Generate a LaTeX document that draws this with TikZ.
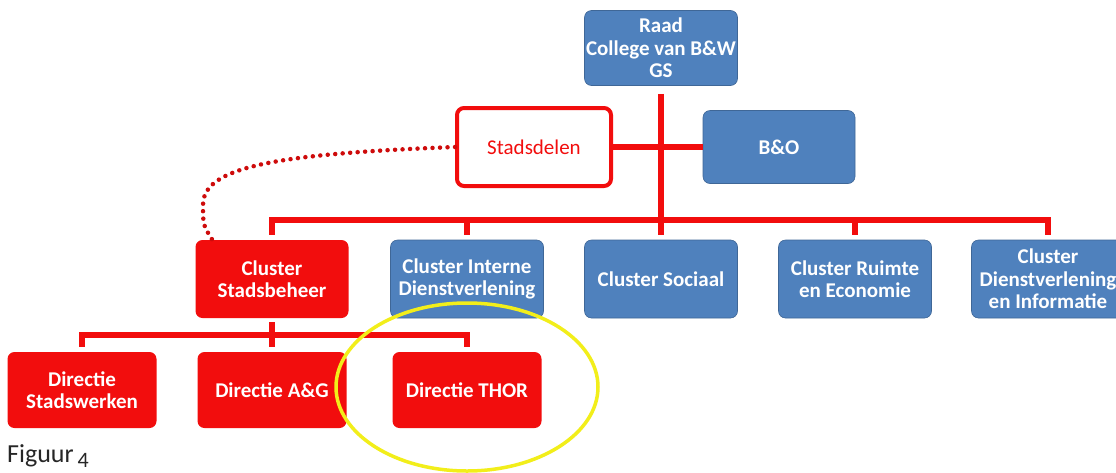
\documentclass[tikz,border=0pt]{standalone}
\usepackage{fontspec}
\setmainfont{Carlito}
\definecolor{offblue}{HTML}{4F81BD}
\definecolor{orgred}{HTML}{F20D0D}
\definecolor{ringyellow}{HTML}{F2EE1A}
\tikzset{
  box/.style={rounded corners=7pt, align=center, text=white, font=\fontsize{21}{22.5}\selectfont\bfseries, inner sep=0pt},
  bluebox/.style={box, fill=offblue, draw=offblue!80!black, line width=0.6pt},
  redbox/.style={box, fill=orgred},
  clus/.style={minimum width=153pt, minimum height=78pt},
  dirbox/.style={minimum width=149pt, minimum height=76pt},
  conn/.style={draw=orgred, line width=5.5pt, line join=miter},
  dotline/.style={draw=orgred!85!black, line width=4.5pt, line cap=round, dash pattern=on 0pt off 7.5pt},
}
\begin{document}
\begin{tikzpicture}[x=1pt, y=-1pt]
\useasboundingbox (0,0) rectangle (1116,472);
\clip (0,0) rectangle (1116,472);
\fill[white] (0,0) rectangle (1116,472);

% top
\node[bluebox, minimum width=153pt, minimum height=75pt] (raad) at (661,48) {Raad\\College van B\&W\\GS};
\node[box, draw=orgred, fill=white, line width=4pt, text=orgred, font=\fontsize{21}{22.5}\selectfont, minimum width=154pt, minimum height=78pt] (stad) at (534,147) {Stadsdelen};
\node[bluebox, minimum width=152pt, minimum height=73pt] (bo) at (779,147) {B\&O};

% clusters
\node[redbox, clus] (cs) at (272,279) {Cluster\\Stadsbeheer};
\node[bluebox, clus] (cid) at (467,279) {Cluster Interne\\Dienstverlening};
\node[bluebox, clus] (csoc) at (661,279) {Cluster Sociaal};
\node[bluebox, clus] (cre) at (855,279) {Cluster Ruimte\\en Economie};
\node[bluebox, clus] (cdi) at (1048,279) {Cluster\\Dienstverlening\\en Informatie};

% directies
\node[redbox, dirbox] (ds) at (82,390) {Directie\\Stadswerken};
\node[redbox, dirbox] (dag) at (272,390) {Directie A\&G};
\node[redbox, dirbox] (dth) at (467,390) {Directie THOR};

% connectors
\coordinate (bus) at (0,220);
\coordinate (sub) at (0,335);
\draw[conn] ([yshift=-8pt]raad.south) -- (raad.south |- bus);
\draw[conn] (stad.east) -- (bo.west);
\draw[conn] ([yshift=5pt]cs.north) -- (cs.north |- bus) -- (cdi.north |- bus) -- ([yshift=5pt]cdi.north);
\foreach \n in {cid,csoc,cre} \draw[conn] (\n.north |- bus) -- ([yshift=5pt]\n.north);
\draw[conn] ([yshift=-4pt]cs.south) -- (cs.south |- sub);
\draw[conn] ([yshift=5pt]ds.north) -- (ds.north |- sub) -- (dth.north |- sub) -- ([yshift=5pt]dth.north);
\draw[conn] (dag.north |- sub) -- ([yshift=5pt]dag.north);

% dotted link
\coordinate (dotend) at ([xshift=17pt]cs.north west);
\draw[dotline] (stad.west) .. controls (270,154) and (203,168) .. (203,205) .. controls (203,225) .. (dotend);

% highlight
\draw[ringyellow, line width=3.5pt] (467,387) ellipse (131 and 84);

% caption
\node[anchor=base west, inner sep=0pt, font=\fontsize{26}{30}\selectfont, text=black!85] (cap) at (7,462) {Figuur\hspace{0.15em}{\fontsize{22}{24}\selectfont\raisebox{-5pt}{4}}};
\end{tikzpicture}
\end{document}
